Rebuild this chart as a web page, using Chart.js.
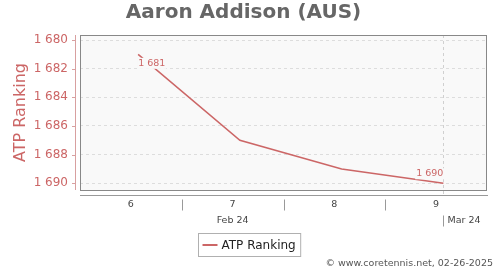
<!DOCTYPE html>
<html>
<head>
<meta charset="utf-8">
<script src="https://cdn.jsdelivr.net/npm/chart.js@4"></script>
<style>
  html, body { margin: 0; padding: 0; background: #fff; }
  #wrap { width: 500px; height: 270px; }
</style>
</head>
<body>
<div id="wrap"><canvas id="chart" width="500" height="270"></canvas></div>
<script>
// chart data
const player = 'Aaron Addison (AUS)';
const seriesLabel = 'ATP Ranking';
const rankDays = [8, 15, 22, 29];          // day counted from Feb 1 (29 = Mar 1)
const rankings = [1681, 1687, 1689, 1690];
const weekLabels = ['6', '7', '8', '9'];
const weekCenters = [7.5, 14.5, 21.5, 28.5];
const weekBounds = [11, 18, 25];
const monthLabels = ['Feb 24', 'Mar 24'];
const monthAnchors = [14.5, 29];
const yTicks = [1680, 1682, 1684, 1686, 1688, 1690];
const credit = '\u00a9 www.coretennis.net, 02-26-2025';

const RED = '#cc6666';
const FONT = 'DejaVu Sans';

function fmtRank(v) {
  const s = String(v);
  return s.length > 3 ? s.slice(0, -3) + ' ' + s.slice(-3) : s;
}

const decor = {
  id: 'decor',
  beforeDraw(chart) {
    const { ctx, chartArea: a } = chart;
    ctx.save();
    ctx.fillStyle = '#ffffff';
    ctx.fillRect(0, 0, chart.width, chart.height);
    ctx.fillStyle = '#f9f9f9';
    ctx.fillRect(a.left, a.top, a.right - a.left, a.bottom - a.top);
    ctx.restore();
  },
  beforeDatasetsDraw(chart) {
    const { ctx, chartArea: a, scales: { x } } = chart;
    // month boundary line
    const mx = Math.round(x.getPixelForValue(monthAnchors[1])) + 0.5;
    ctx.save();
    ctx.strokeStyle = '#d0d0d0';
    ctx.lineWidth = 1;
    ctx.setLineDash([3, 3]);
    ctx.beginPath();
    ctx.moveTo(mx, a.top);
    ctx.lineTo(mx, a.bottom + 7);
    ctx.stroke();
    ctx.restore();
  },
  afterDatasetsDraw(chart) {
    const { ctx, scales: { x, y } } = chart;
    ctx.save();
    ctx.font = '9.5px ' + FONT;
    ctx.textBaseline = 'middle';
    const marks = [0, rankings.length - 1];
    marks.forEach((i, k) => {
      const px = x.getPixelForValue(rankDays[i]);
      const py = y.getPixelForValue(rankings[i]);
      const txt = fmtRank(rankings[i]);
      const w = ctx.measureText(txt).width;
      const left = k === 0 ? px : px - w;
      const cy = k === 0 ? py + 9 : py - 9.5;
      ctx.fillStyle = '#f9f9f9';
      ctx.fillRect(left - 1, cy - 5.5, w + 2, 11);
      ctx.fillStyle = RED;
      ctx.textAlign = 'left';
      ctx.fillText(txt, left, cy);
    });
    ctx.restore();
  },
  afterDraw(chart) {
    const { ctx, chartArea: a, scales: { x, y } } = chart;
    ctx.save();

    // plot frame
    ctx.strokeStyle = '#888888';
    ctx.lineWidth = 1;
    ctx.strokeRect(a.left + 0.5, a.top + 0.5, a.right - a.left - 1, a.bottom - a.top);

    // y axis line and ticks
    ctx.strokeStyle = '#d8a0a0';
    ctx.beginPath();
    ctx.moveTo(a.left - 4.5, a.top);
    ctx.lineTo(a.left - 4.5, a.bottom);
    yTicks.forEach(v => {
      const ty = Math.round(y.getPixelForValue(v)) + 0.5;
      ctx.moveTo(a.left - 8, ty);
      ctx.lineTo(a.left - 5, ty);
    });
    ctx.stroke();

    // bottom axis
    const ay = a.bottom + 5.5;
    ctx.strokeStyle = '#999999';
    ctx.beginPath();
    ctx.moveTo(a.left, ay);
    ctx.lineTo(a.right + 1, ay);
    weekBounds.forEach(d => {
      const bx = Math.round(x.getPixelForValue(d)) + 0.5;
      ctx.moveTo(bx, ay + 4);
      ctx.lineTo(bx, ay + 15);
    });
    const mx = Math.round(x.getPixelForValue(monthAnchors[1])) + 0.5;
    ctx.moveTo(mx, ay + 20);
    ctx.lineTo(mx, ay + 31);
    ctx.stroke();

    ctx.fillStyle = '#444444';
    ctx.font = '9.5px ' + FONT;
    ctx.textBaseline = 'middle';
    ctx.textAlign = 'center';
    weekLabels.forEach((t, i) => {
      ctx.fillText(t, x.getPixelForValue(weekCenters[i]), ay + 9);
    });
    ctx.fillText(monthLabels[0], x.getPixelForValue(monthAnchors[0]), ay + 25);
    ctx.textAlign = 'left';
    ctx.fillText(monthLabels[1], mx + 4, ay + 25);

    // legend
    ctx.font = '12px ' + FONT;
    const tw = ctx.measureText(seriesLabel).width;
    const bw = 4 + 16 + 4 + tw + 4;
    const bx0 = Math.round(249 - bw / 2) + 0.5;
    ctx.fillStyle = '#ffffff';
    ctx.fillRect(bx0, 233.5, bw, 23);
    ctx.strokeStyle = '#b0b0b0';
    ctx.strokeRect(bx0, 233.5, bw, 23);
    ctx.strokeStyle = RED;
    ctx.lineWidth = 2;
    ctx.beginPath();
    ctx.moveTo(bx0 + 4, 245);
    ctx.lineTo(bx0 + 19, 245);
    ctx.stroke();
    ctx.fillStyle = '#222222';
    ctx.fillText(seriesLabel, bx0 + 23, 245.5);

    // credit
    ctx.fillStyle = '#555555';
    ctx.font = '9.5px ' + FONT;
    ctx.textAlign = 'right';
    ctx.fillText(credit, 493, 264);
    ctx.restore();
  }
};

const chart = new Chart(document.getElementById('chart').getContext('2d'), {
  type: 'line',
  data: {
    datasets: [{
      label: seriesLabel,
      data: rankDays.map((d, i) => ({ x: d, y: rankings[i] })),
      borderColor: RED,
      borderWidth: 1.5,
      pointRadius: 0,
      tension: 0,
      fill: false
    }]
  },
  options: {
    responsive: false,
    devicePixelRatio: 1,
    animation: false,
    layout: { padding: { left: 0, right: 13, top: 0, bottom: 80 } },
    plugins: {
      legend: { display: false },
      tooltip: { enabled: false },
      title: {
        display: true,
        text: player,
        color: '#666666',
        font: { family: FONT, size: 20, weight: 'bold' },
        padding: { top: 1, bottom: 10 }
      }
    },
    scales: {
      x: {
        type: 'linear',
        display: false,
        min: 4,
        max: 32
      },
      y: {
        type: 'linear',
        reverse: true,
        min: 1679.65,
        max: 1690.47,
        afterBuildTicks: scale => { scale.ticks = yTicks.map(v => ({ value: v })); },
        afterFit: scale => { scale.width = 80; },
        border: { display: false, dash: [3, 3] },
        grid: { color: '#dddddd', drawTicks: false, tickLength: 0 },
        ticks: {
          color: RED,
          padding: 12,
          font: { family: FONT, size: 12 },
          callback: v => fmtRank(v)
        },
        title: {
          display: true,
          text: seriesLabel,
          color: RED,
          font: { family: FONT, size: 16 },
          padding: { top: 11, bottom: 0 }
        }
      }
    }
  },
  plugins: [decor]
});
</script>
</body>
</html>
